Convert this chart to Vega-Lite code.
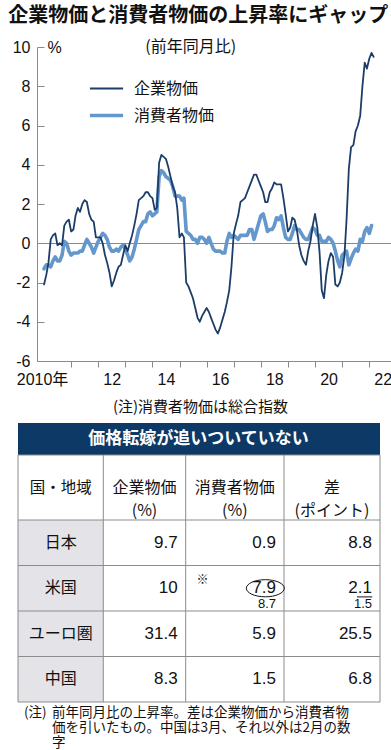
{
  "$schema": "https://vega.github.io/schema/vega-lite/v6.json",
  "background": "white",
  "padding": {"left": 8, "right": 0, "top": 6, "bottom": 0},
  "spacing": 9,
  "title": {"text": "企業物価と消費者物価の上昇率にギャップ", "anchor": "start", "font": "Noto Sans CJK JP", "fontSize": 20, "fontWeight": "bold", "color": "#111111", "offset": 13, "dx": -4},
  "config": {"view": {"stroke": null}},
  "datasets": {
    "series": [
      {"月":"2010-01-01","企業物価":-2.1,"消費者物価":-1.3},
      {"月":"2010-02-01","企業物価":-1.6,"消費者物価":-1.1},
      {"月":"2010-03-01","企業物価":-1.0,"消費者物価":-1.1},
      {"月":"2010-04-01","企業物価":0.2,"消費者物価":-1.2},
      {"月":"2010-05-01","企業物価":0.4,"消費者物価":-0.9},
      {"月":"2010-06-01","企業物価":0.5,"消費者物価":-0.7},
      {"月":"2010-07-01","企業物価":-0.1,"消費者物価":-0.9},
      {"月":"2010-08-01","企業物価":0.0,"消費者物価":-0.9},
      {"月":"2010-09-01","企業物価":-0.1,"消費者物価":-0.6},
      {"月":"2010-10-01","企業物価":0.9,"消費者物価":0.1},
      {"月":"2010-11-01","企業物価":1.1,"消費者物価":0.0},
      {"月":"2010-12-01","企業物価":1.2,"消費者物価":-0.4},
      {"月":"2011-01-01","企業物価":0.6,"消費者物価":-0.6},
      {"月":"2011-02-01","企業物価":0.7,"消費者物価":-0.5},
      {"月":"2011-03-01","企業物価":1.4,"消費者物価":-0.5},
      {"月":"2011-04-01","企業物価":1.8,"消費者物価":-0.5},
      {"月":"2011-05-01","企業物価":1.6,"消費者物価":-0.4},
      {"月":"2011-06-01","企業物価":2.0,"消費者物価":-0.4},
      {"月":"2011-07-01","企業物価":2.2,"消費者物価":-0.1},
      {"月":"2011-08-01","企業物価":2.1,"消費者物価":0.2},
      {"月":"2011-09-01","企業物価":1.5,"消費者物価":0.0},
      {"月":"2011-10-01","企業物価":1.2,"消費者物価":-0.2},
      {"月":"2011-11-01","企業物価":1.1,"消費者物価":-0.5},
      {"月":"2011-12-01","企業物価":0.3,"消費者物価":-0.2},
      {"月":"2012-01-01","企業物価":0.3,"消費者物価":0.1},
      {"月":"2012-02-01","企業物価":0.3,"消費者物価":0.3},
      {"月":"2012-03-01","企業物価":0.0,"消費者物価":0.5},
      {"月":"2012-04-01","企業物価":-0.6,"消費者物価":0.4},
      {"月":"2012-05-01","企業物価":-1.0,"消費者物価":0.2},
      {"月":"2012-06-01","企業物価":-1.5,"消費者物価":-0.2},
      {"月":"2012-07-01","企業物価":-2.2,"消費者物価":-0.4},
      {"月":"2012-08-01","企業物価":-1.9,"消費者物価":-0.4},
      {"月":"2012-09-01","企業物価":-1.5,"消費者物価":-0.3},
      {"月":"2012-10-01","企業物価":-1.2,"消費者物価":-0.4},
      {"月":"2012-11-01","企業物価":-1.1,"消費者物価":-0.2},
      {"月":"2012-12-01","企業物価":-0.6,"消費者物価":-0.1},
      {"月":"2013-01-01","企業物価":-0.1,"消費者物価":-0.3},
      {"月":"2013-02-01","企業物価":-0.4,"消費者物価":-0.6},
      {"月":"2013-03-01","企業物価":0.0,"消費者物価":-0.9},
      {"月":"2013-04-01","企業物価":0.4,"消費者物価":-0.7},
      {"月":"2013-05-01","企業物価":0.9,"消費者物価":-0.3},
      {"月":"2013-06-01","企業物価":1.5,"消費者物価":0.2},
      {"月":"2013-07-01","企業物価":2.2,"消費者物価":0.7},
      {"月":"2013-08-01","企業物価":2.3,"消費者物価":0.9},
      {"月":"2013-09-01","企業物価":2.4,"消費者物価":1.1},
      {"月":"2013-10-01","企業物価":2.6,"消費者物価":1.1},
      {"月":"2013-11-01","企業物価":2.6,"消費者物価":1.5},
      {"月":"2013-12-01","企業物価":2.4,"消費者物価":1.6},
      {"月":"2014-01-01","企業物価":2.3,"消費者物価":1.4},
      {"月":"2014-02-01","企業物価":1.7,"消費者物価":1.5},
      {"月":"2014-03-01","企業物価":1.8,"消費者物価":1.6},
      {"月":"2014-04-01","企業物価":4.1,"消費者物価":3.4},
      {"月":"2014-05-01","企業物価":4.5,"消費者物価":3.7},
      {"月":"2014-06-01","企業物価":4.4,"消費者物価":3.6},
      {"月":"2014-07-01","企業物価":4.3,"消費者物価":3.4},
      {"月":"2014-08-01","企業物価":3.9,"消費者物価":3.3},
      {"月":"2014-09-01","企業物価":3.4,"消費者物価":3.2},
      {"月":"2014-10-01","企業物価":2.9,"消費者物価":2.9},
      {"月":"2014-11-01","企業物価":2.6,"消費者物価":2.4},
      {"月":"2014-12-01","企業物価":1.8,"消費者物価":2.4},
      {"月":"2015-01-01","企業物価":0.3,"消費者物価":2.4},
      {"月":"2015-02-01","企業物価":0.5,"消費者物価":2.2},
      {"月":"2015-03-01","企業物価":0.3,"消費者物価":2.3},
      {"月":"2015-04-01","企業物価":-2.0,"消費者物価":0.6},
      {"月":"2015-05-01","企業物価":-2.2,"消費者物価":0.5},
      {"月":"2015-06-01","企業物価":-2.5,"消費者物価":0.4},
      {"月":"2015-07-01","企業物価":-2.8,"消費者物価":0.2},
      {"月":"2015-08-01","企業物価":-3.3,"消費者物価":0.2},
      {"月":"2015-09-01","企業物価":-3.8,"消費者物価":0.0},
      {"月":"2015-10-01","企業物価":-4.0,"消費者物価":0.3},
      {"月":"2015-11-01","企業物価":-3.7,"消費者物価":0.3},
      {"月":"2015-12-01","企業物価":-3.5,"消費者物価":0.2},
      {"月":"2016-01-01","企業物価":-3.3,"消費者物価":0.0},
      {"月":"2016-02-01","企業物価":-3.5,"消費者物価":0.3},
      {"月":"2016-03-01","企業物価":-3.8,"消費者物価":0.0},
      {"月":"2016-04-01","企業物価":-4.1,"消費者物価":-0.3},
      {"月":"2016-05-01","企業物価":-4.4,"消費者物価":-0.4},
      {"月":"2016-06-01","企業物価":-4.6,"消費者物価":-0.4},
      {"月":"2016-07-01","企業物価":-4.3,"消費者物価":-0.4},
      {"月":"2016-08-01","企業物価":-3.9,"消費者物価":-0.5},
      {"月":"2016-09-01","企業物価":-3.5,"消費者物価":-0.5},
      {"月":"2016-10-01","企業物価":-3.0,"消費者物価":0.1},
      {"月":"2016-11-01","企業物価":-2.4,"消費者物価":0.5},
      {"月":"2016-12-01","企業物価":-1.2,"消費者物価":0.3},
      {"月":"2017-01-01","企業物価":0.5,"消費者物価":0.4},
      {"月":"2017-02-01","企業物価":1.0,"消費者物価":0.3},
      {"月":"2017-03-01","企業物価":1.4,"消費者物価":0.2},
      {"月":"2017-04-01","企業物価":2.1,"消費者物価":0.4},
      {"月":"2017-05-01","企業物価":2.2,"消費者物価":0.4},
      {"月":"2017-06-01","企業物価":2.3,"消費者物価":0.4},
      {"月":"2017-07-01","企業物価":2.6,"消費者物価":0.4},
      {"月":"2017-08-01","企業物価":2.9,"消費者物価":0.7},
      {"月":"2017-09-01","企業物価":3.2,"消費者物価":0.7},
      {"月":"2017-10-01","企業物価":3.5,"消費者物価":0.2},
      {"月":"2017-11-01","企業物価":3.5,"消費者物価":0.6},
      {"月":"2017-12-01","企業物価":3.2,"消費者物価":1.0},
      {"月":"2018-01-01","企業物価":2.9,"消費者物価":1.4},
      {"月":"2018-02-01","企業物価":2.6,"消費者物価":1.5},
      {"月":"2018-03-01","企業物価":2.1,"消費者物価":1.1},
      {"月":"2018-04-01","企業物価":2.1,"消費者物価":0.6},
      {"月":"2018-05-01","企業物価":2.6,"消費者物価":0.7},
      {"月":"2018-06-01","企業物価":2.8,"消費者物価":0.7},
      {"月":"2018-07-01","企業物価":3.1,"消費者物価":0.9},
      {"月":"2018-08-01","企業物価":3.0,"消費者物価":1.3},
      {"月":"2018-09-01","企業物価":3.0,"消費者物価":1.2},
      {"月":"2018-10-01","企業物価":3.0,"消費者物価":1.4},
      {"月":"2018-11-01","企業物価":2.3,"消費者物価":0.8},
      {"月":"2018-12-01","企業物価":1.5,"消費者物価":0.3},
      {"月":"2019-01-01","企業物価":0.6,"消費者物価":0.2},
      {"月":"2019-02-01","企業物価":0.8,"消費者物価":0.2},
      {"月":"2019-03-01","企業物価":1.3,"消費者物価":0.5},
      {"月":"2019-04-01","企業物価":1.2,"消費者物価":0.9},
      {"月":"2019-05-01","企業物価":0.7,"消費者物価":0.7},
      {"月":"2019-06-01","企業物価":-0.1,"消費者物価":0.7},
      {"月":"2019-07-01","企業物価":-0.6,"消費者物価":0.5},
      {"月":"2019-08-01","企業物価":-0.9,"消費者物価":0.3},
      {"月":"2019-09-01","企業物価":-1.1,"消費者物価":0.2},
      {"月":"2019-10-01","企業物価":-0.4,"消費者物価":0.2},
      {"月":"2019-11-01","企業物価":0.1,"消費者物価":0.5},
      {"月":"2019-12-01","企業物価":0.9,"消費者物価":0.8},
      {"月":"2020-01-01","企業物価":1.5,"消費者物価":0.7},
      {"月":"2020-02-01","企業物価":0.8,"消費者物価":0.4},
      {"月":"2020-03-01","企業物価":-0.4,"消費者物価":0.4},
      {"月":"2020-04-01","企業物価":-2.4,"消費者物価":0.1},
      {"月":"2020-05-01","企業物価":-2.8,"消費者物価":0.1},
      {"月":"2020-06-01","企業物価":-1.6,"消費者物価":0.1},
      {"月":"2020-07-01","企業物価":-0.9,"消費者物価":0.3},
      {"月":"2020-08-01","企業物価":-0.5,"消費者物価":0.2},
      {"月":"2020-09-01","企業物価":-0.7,"消費者物価":0.0},
      {"月":"2020-10-01","企業物価":-2.1,"消費者物価":-0.4},
      {"月":"2020-11-01","企業物価":-2.2,"消費者物価":-0.9},
      {"月":"2020-12-01","企業物価":-2.0,"消費者物価":-1.2},
      {"月":"2021-01-01","企業物価":-1.5,"消費者物価":-0.6},
      {"月":"2021-02-01","企業物価":-0.6,"消費者物価":-0.5},
      {"月":"2021-03-01","企業物価":1.2,"消費者物価":-0.4},
      {"月":"2021-04-01","企業物価":3.8,"消費者物価":-1.1},
      {"月":"2021-05-01","企業物価":4.9,"消費者物価":-0.8},
      {"月":"2021-06-01","企業物価":5.0,"消費者物価":-0.5},
      {"月":"2021-07-01","企業物価":5.7,"消費者物価":-0.3},
      {"月":"2021-08-01","企業物価":6.0,"消費者物価":-0.4},
      {"月":"2021-09-01","企業物価":6.5,"消費者物価":0.2},
      {"月":"2021-10-01","企業物価":8.0,"消費者物価":0.1},
      {"月":"2021-11-01","企業物価":9.2,"消費者物価":0.6},
      {"月":"2021-12-01","企業物価":8.9,"消費者物価":0.8},
      {"月":"2022-01-01","企業物価":9.4,"消費者物価":0.5},
      {"月":"2022-02-01","企業物価":9.7,"消費者物価":0.9},
      {"月":"2022-03-01","企業物価":9.5,"消費者物価":null}
    ],
    "table": [
      {"地域":"日本","企業物価":9.7,"消費者物価":0.9,"差":8.8},
      {"地域":"米国","企業物価":10,"消費者物価":7.9,"差":2.1,"消費者物価_前":8.7,"差_前":1.5},
      {"地域":"ユーロ圏","企業物価":31.4,"消費者物価":5.9,"差":25.5},
      {"地域":"中国","企業物価":8.3,"消費者物価":1.5,"差":6.8}
    ]
  },
  "vconcat": [
    {
      "width": 358,
      "height": 314,
      "layer": [
        {
          "data": {"name": "series"},
          "transform": [{"fold": ["消費者物価", "企業物価"], "as": ["系列", "値"]}],
          "mark": {"type": "line", "strokeJoin": "round", "strokeCap": "round"},
          "encoding": {
            "x": {
              "field": "月", "type": "temporal",
              "scale": {"domain": ["2009-09-28", "2022-12-14"]},
              "axis": {
                "values": [
                  {"year": 2010, "month": 1, "date": 1}, {"year": 2011, "month": 1, "date": 1}, {"year": 2012, "month": 1, "date": 1},
                  {"year": 2013, "month": 1, "date": 1}, {"year": 2014, "month": 1, "date": 1}, {"year": 2015, "month": 1, "date": 1},
                  {"year": 2016, "month": 1, "date": 1}, {"year": 2017, "month": 1, "date": 1}, {"year": 2018, "month": 1, "date": 1},
                  {"year": 2019, "month": 1, "date": 1}, {"year": 2020, "month": 1, "date": 1}, {"year": 2021, "month": 1, "date": 1},
                  {"year": 2022, "month": 1, "date": 1}
                ],
                "labelExpr": "year(datum.value) % 2 == 0 ? (year(datum.value) == 2010 ? '2010年' : substring(toString(year(datum.value)), 2, 4)) : ''",
                "labelOffset": {"condition": {"test": "year(datum.value) == 2010", "value": -2}, "value": 13.5},
                "tickOpacity": {"condition": {"test": "year(datum.value) == 2010", "value": 0}, "value": 1},
                "tickSize": 6, "tickColor": "#8a8a8a", "domainColor": "#8a8a8a",
                "labelFont": "Liberation Sans, Noto Sans CJK JP", "labelFontSize": 16, "labelColor": "#111111",
                "labelPadding": 4, "labelFlush": false, "labelOverlap": false, "grid": false,
                "title": "(注)消費者物価は総合指数", "titleFont": "Noto Sans CJK JP", "titleFontSize": 15,
                "titleFontWeight": "normal", "titleColor": "#111111", "titlePadding": 12, "titleX": 163, "titleAlign": "center"
              }
            },
            "y": {
              "field": "値", "type": "quantitative",
              "scale": {"domain": [-6, 10], "nice": false, "zero": false},
              "axis": {
                "values": [-6, -4, -2, 0, 2, 4, 6, 8, 10],
                "labelExpr": "toString(datum.value)",
                "labelOverlap": false, "labelSeparation": 0, "labelBound": false,
                "labelFont": "Liberation Sans", "labelFontSize": 16, "labelColor": "#111111",
                "tickSize": -7, "tickColor": "#8a8a8a", "domainColor": "#8a8a8a", "labelPadding": 14,
                "grid": true, "gridColor": "#8a8a8a", "gridWidth": 1,
                "gridOpacity": {"condition": {"test": "datum.value == 0", "value": 1}, "value": 0},
                "title": "%", "titleAngle": 0, "titleX": 10, "titleY": 0, "titleAlign": "left", "titleBaseline": "middle",
                "titleFont": "Liberation Sans", "titleFontSize": 16, "titleFontWeight": "normal", "titleColor": "#111111"
              }
            },
            "color": {
              "field": "系列", "type": "nominal",
              "scale": {"domain": ["企業物価", "消費者物価"], "range": ["#1d3d69", "#6497cb"]},
              "legend": {"orient": "none", "legendX": 51, "legendY": 24, "title": null, "symbolType": "stroke", "symbolSize": 1100,
                "labelFont": "Noto Sans CJK JP", "labelFontSize": 16, "labelColor": "#111111", "labelOffset": 9, "rowPadding": -10, "labelLimit": 200}
            },
            "strokeWidth": {
              "field": "系列", "type": "nominal",
              "scale": {"domain": ["企業物価", "消費者物価"], "range": [1.8, 3.6]},
              "legend": {"orient": "none", "legendX": 51, "legendY": 24, "title": null, "symbolType": "stroke", "symbolSize": 1100,
                "labelFont": "Noto Sans CJK JP", "labelFontSize": 16, "labelColor": "#111111", "labelOffset": 9, "rowPadding": -10, "labelLimit": 200}
            }
          }
        },
        {
          "data": {"values": [{}]},
          "mark": {"type": "text", "font": "Noto Sans CJK JP", "fontSize": 16, "color": "#111111", "align": "center", "baseline": "middle"},
          "encoding": {
            "x": {
              "datum": {"year": 2015, "month": 6, "date": 1}, "type": "temporal",
              "scale": {"domain": ["2009-09-28", "2022-12-14"]},
              "axis": {
                "values": [
                  {"year": 2010, "month": 1, "date": 1}, {"year": 2011, "month": 1, "date": 1}, {"year": 2012, "month": 1, "date": 1},
                  {"year": 2013, "month": 1, "date": 1}, {"year": 2014, "month": 1, "date": 1}, {"year": 2015, "month": 1, "date": 1},
                  {"year": 2016, "month": 1, "date": 1}, {"year": 2017, "month": 1, "date": 1}, {"year": 2018, "month": 1, "date": 1},
                  {"year": 2019, "month": 1, "date": 1}, {"year": 2020, "month": 1, "date": 1}, {"year": 2021, "month": 1, "date": 1},
                  {"year": 2022, "month": 1, "date": 1}
                ],
                "labelExpr": "year(datum.value) % 2 == 0 ? (year(datum.value) == 2010 ? '2010年' : substring(toString(year(datum.value)), 2, 4)) : ''",
                "labelOffset": {"condition": {"test": "year(datum.value) == 2010", "value": -2}, "value": 13.5},
                "tickOpacity": {"condition": {"test": "year(datum.value) == 2010", "value": 0}, "value": 1},
                "tickSize": 6, "tickColor": "#8a8a8a", "domainColor": "#8a8a8a",
                "labelFont": "Liberation Sans, Noto Sans CJK JP", "labelFontSize": 16, "labelColor": "#111111",
                "labelPadding": 4, "labelFlush": false, "labelOverlap": false, "grid": false,
                "title": "(注)消費者物価は総合指数", "titleFont": "Noto Sans CJK JP", "titleFontSize": 15,
                "titleFontWeight": "normal", "titleColor": "#111111", "titlePadding": 12, "titleX": 163, "titleAlign": "center"
              }
            },
            "y": {
              "datum": 10, "type": "quantitative",
              "scale": {"domain": [-6, 10], "nice": false, "zero": false},
              "axis": {
                "values": [-6, -4, -2, 0, 2, 4, 6, 8, 10],
                "labelExpr": "toString(datum.value)",
                "labelOverlap": false, "labelSeparation": 0, "labelBound": false,
                "labelFont": "Liberation Sans", "labelFontSize": 16, "labelColor": "#111111",
                "tickSize": -7, "tickColor": "#8a8a8a", "domainColor": "#8a8a8a", "labelPadding": 14,
                "grid": true, "gridColor": "#8a8a8a", "gridWidth": 1,
                "gridOpacity": {"condition": {"test": "datum.value == 0", "value": 1}, "value": 0},
                "title": "%", "titleAngle": 0, "titleX": 10, "titleY": 0, "titleAlign": "left", "titleBaseline": "middle",
                "titleFont": "Liberation Sans", "titleFontSize": 16, "titleFontWeight": "normal", "titleColor": "#111111"
              }
            },
            "text": {"value": "(前年同月比)"}
          }
        }
      ]
    },
    {
      "width": 362,
      "height": 279,
      "resolve": {"scale": {"y": "independent"}},
      "layer": [
        {
          "data": {"values": [{}]},
          "mark": {"type": "rect", "fill": "#e3e3e8"},
          "encoding": {
            "x": {"datum": 0, "type": "quantitative", "scale": {"domain": [0, 1, 2, 3, 4], "range": [-19, 66.3, 148.7, 247, 343], "nice": false, "zero": false}, "axis": null},
            "x2": {"datum": 1},
            "y": {"datum": 2, "type": "quantitative", "scale": {"domain": [0, 1, 2, 3, 4, 5, 6], "range": [0, 32, 97, 142.5, 188, 233.5, 279], "nice": false, "zero": false}, "axis": null},
            "y2": {"datum": 6}
          }
        },
        {
          "data": {"values": [{}]},
          "mark": {"type": "rect", "fill": "#0d3966"},
          "encoding": {
            "x": {"datum": 0, "type": "quantitative", "scale": {"domain": [0, 1, 2, 3, 4], "range": [-19, 66.3, 148.7, 247, 343], "nice": false, "zero": false}, "axis": null},
            "x2": {"datum": 4},
            "y": {"datum": 0, "type": "quantitative", "scale": {"domain": [0, 1, 2, 3, 4, 5, 6], "range": [0, 32, 97, 142.5, 188, 233.5, 279], "nice": false, "zero": false}, "axis": null},
            "y2": {"datum": 1}
          }
        },
        {
          "data": {"values": [{}]},
          "mark": {"type": "rule", "color": "#8c8c8c", "strokeWidth": 1},
          "encoding": {
            "x": {"datum": 1, "type": "quantitative", "scale": {"domain": [0, 1, 2, 3, 4], "range": [-19, 66.3, 148.7, 247, 343], "nice": false, "zero": false}, "axis": null},
            "y": {"datum": 1, "type": "quantitative", "scale": {"domain": [0, 1, 2, 3, 4, 5, 6], "range": [0, 32, 97, 142.5, 188, 233.5, 279], "nice": false, "zero": false}, "axis": null},
            "y2": {"datum": 6}
          }
        },
        {
          "data": {"values": [{}]},
          "mark": {"type": "rule", "color": "#8c8c8c", "strokeWidth": 1},
          "encoding": {
            "x": {"datum": 2, "type": "quantitative", "scale": {"domain": [0, 1, 2, 3, 4], "range": [-19, 66.3, 148.7, 247, 343], "nice": false, "zero": false}, "axis": null},
            "y": {"datum": 1, "type": "quantitative", "scale": {"domain": [0, 1, 2, 3, 4, 5, 6], "range": [0, 32, 97, 142.5, 188, 233.5, 279], "nice": false, "zero": false}, "axis": null},
            "y2": {"datum": 6}
          }
        },
        {
          "data": {"values": [{}]},
          "mark": {"type": "rule", "color": "#8c8c8c", "strokeWidth": 1},
          "encoding": {
            "x": {"datum": 3, "type": "quantitative", "scale": {"domain": [0, 1, 2, 3, 4], "range": [-19, 66.3, 148.7, 247, 343], "nice": false, "zero": false}, "axis": null},
            "y": {"datum": 1, "type": "quantitative", "scale": {"domain": [0, 1, 2, 3, 4, 5, 6], "range": [0, 32, 97, 142.5, 188, 233.5, 279], "nice": false, "zero": false}, "axis": null},
            "y2": {"datum": 6}
          }
        },
        {
          "data": {"name": "table"},
          "mark": {"type": "rule", "color": "#8c8c8c", "strokeWidth": 1},
          "encoding": {
            "x": {"datum": 0, "type": "quantitative", "scale": {"domain": [0, 1, 2, 3, 4], "range": [-19, 66.3, 148.7, 247, 343], "nice": false, "zero": false}, "axis": null},
            "x2": {"datum": 4},
            "y": {"field": "地域", "type": "nominal", "bandPosition": 0, "scale": {"domain": ["日本", "米国", "ユーロ圏", "中国"], "range": [97, 279], "paddingInner": 0, "paddingOuter": 0}, "axis": null}
          }
        },
        {
          "data": {"values": [{}]},
          "mark": {"type": "rect", "fillOpacity": 0, "stroke": "#8c8c8c", "strokeWidth": 1},
          "encoding": {
            "x": {"datum": 0, "type": "quantitative", "scale": {"domain": [0, 1, 2, 3, 4], "range": [-19, 66.3, 148.7, 247, 343], "nice": false, "zero": false}, "axis": null},
            "x2": {"datum": 4},
            "y": {"datum": 1, "type": "quantitative", "scale": {"domain": [0, 1, 2, 3, 4, 5, 6], "range": [0, 32, 97, 142.5, 188, 233.5, 279], "nice": false, "zero": false}, "axis": null},
            "y2": {"datum": 6}
          }
        },
        {
          "data": {"values": [{}]},
          "mark": {"type": "rule", "color": "#111111", "strokeWidth": 1},
          "encoding": {
            "x": {"datum": 3.76, "type": "quantitative", "scale": {"domain": [0, 1, 2, 3, 4], "range": [-19, 66.3, 148.7, 247, 343], "nice": false, "zero": false}, "axis": null},
            "x2": {"datum": 3.92},
            "y": {"datum": 3.69, "type": "quantitative", "scale": {"domain": [0, 1, 2, 3, 4, 5, 6], "range": [0, 32, 97, 142.5, 188, 233.5, 279], "nice": false, "zero": false}, "axis": null}
          }
        },
        {
          "data": {"values": [{}]},
          "mark": {"type": "text", "font": "Noto Sans CJK JP", "fontSize": 17, "fontWeight": "bold", "color": "white", "align": "center", "baseline": "middle"},
          "encoding": {
            "x": {"datum": 2.13, "type": "quantitative", "scale": {"domain": [0, 1, 2, 3, 4], "range": [-19, 66.3, 148.7, 247, 343], "nice": false, "zero": false}, "axis": null},
            "y": {"datum": 0.5, "type": "quantitative", "scale": {"domain": [0, 1, 2, 3, 4, 5, 6], "range": [0, 32, 97, 142.5, 188, 233.5, 279], "nice": false, "zero": false}, "axis": null},
            "text": {"value": "価格転嫁が追いついていない"}
          }
        },
        {
          "data": {"values": [{}]},
          "mark": {"type": "text", "font": "Noto Sans CJK JP", "fontSize": 15.5, "color": "#111111", "align": "center", "baseline": "middle"},
          "encoding": {
            "x": {"datum": 0.5, "type": "quantitative", "scale": {"domain": [0, 1, 2, 3, 4], "range": [-19, 66.3, 148.7, 247, 343], "nice": false, "zero": false}, "axis": null},
            "y": {"datum": 1.5, "type": "quantitative", "scale": {"domain": [0, 1, 2, 3, 4, 5, 6], "range": [0, 32, 97, 142.5, 188, 233.5, 279], "nice": false, "zero": false}, "axis": null},
            "text": {"value": "国・地域"}
          }
        },
        {
          "data": {"values": [{}]},
          "mark": {"type": "text", "font": "Noto Sans CJK JP", "fontSize": 16, "color": "#111111", "align": "center", "baseline": "middle", "lineHeight": 23},
          "encoding": {
            "x": {"datum": 1.5, "type": "quantitative", "scale": {"domain": [0, 1, 2, 3, 4], "range": [-19, 66.3, 148.7, 247, 343], "nice": false, "zero": false}, "axis": null},
            "y": {"datum": 1.5, "type": "quantitative", "scale": {"domain": [0, 1, 2, 3, 4, 5, 6], "range": [0, 32, 97, 142.5, 188, 233.5, 279], "nice": false, "zero": false}, "axis": null},
            "text": {"value": ["企業物価", "(%)"]}
          }
        },
        {
          "data": {"values": [{}]},
          "mark": {"type": "text", "font": "Noto Sans CJK JP", "fontSize": 16, "color": "#111111", "align": "center", "baseline": "middle", "lineHeight": 23},
          "encoding": {
            "x": {"datum": 2.5, "type": "quantitative", "scale": {"domain": [0, 1, 2, 3, 4], "range": [-19, 66.3, 148.7, 247, 343], "nice": false, "zero": false}, "axis": null},
            "y": {"datum": 1.5, "type": "quantitative", "scale": {"domain": [0, 1, 2, 3, 4, 5, 6], "range": [0, 32, 97, 142.5, 188, 233.5, 279], "nice": false, "zero": false}, "axis": null},
            "text": {"value": ["消費者物価", "(%)"]}
          }
        },
        {
          "data": {"values": [{}]},
          "mark": {"type": "text", "font": "Noto Sans CJK JP", "fontSize": 16, "color": "#111111", "align": "center", "baseline": "middle", "lineHeight": 23},
          "encoding": {
            "x": {"datum": 3.5, "type": "quantitative", "scale": {"domain": [0, 1, 2, 3, 4], "range": [-19, 66.3, 148.7, 247, 343], "nice": false, "zero": false}, "axis": null},
            "y": {"datum": 1.5, "type": "quantitative", "scale": {"domain": [0, 1, 2, 3, 4, 5, 6], "range": [0, 32, 97, 142.5, 188, 233.5, 279], "nice": false, "zero": false}, "axis": null},
            "text": {"value": ["差", "(ポイント)"]}
          }
        },
        {
          "data": {"name": "table"},
          "mark": {"type": "text", "font": "Noto Sans CJK JP", "fontSize": 16, "color": "#111111", "align": "center", "baseline": "middle"},
          "encoding": {
            "x": {"datum": 0.5, "type": "quantitative", "scale": {"domain": [0, 1, 2, 3, 4], "range": [-19, 66.3, 148.7, 247, 343], "nice": false, "zero": false}, "axis": null},
            "y": {"field": "地域", "type": "nominal", "scale": {"domain": ["日本", "米国", "ユーロ圏", "中国"], "range": [97, 279], "paddingInner": 0, "paddingOuter": 0}, "axis": null},
            "text": {"field": "地域", "type": "nominal"}
          }
        },
        {
          "data": {"name": "table"},
          "mark": {"type": "text", "font": "Liberation Sans", "fontSize": 17, "color": "#111111", "align": "right", "baseline": "middle", "dx": -8},
          "encoding": {
            "x": {"datum": 2, "type": "quantitative", "scale": {"domain": [0, 1, 2, 3, 4], "range": [-19, 66.3, 148.7, 247, 343], "nice": false, "zero": false}, "axis": null},
            "y": {"field": "地域", "type": "nominal", "scale": {"domain": ["日本", "米国", "ユーロ圏", "中国"], "range": [97, 279], "paddingInner": 0, "paddingOuter": 0}, "axis": null},
            "text": {"field": "企業物価", "type": "quantitative"}
          }
        },
        {
          "data": {"name": "table"},
          "mark": {"type": "text", "font": "Liberation Sans", "fontSize": 17, "color": "#111111", "align": "right", "baseline": "middle", "dx": -8},
          "encoding": {
            "x": {"datum": 3, "type": "quantitative", "scale": {"domain": [0, 1, 2, 3, 4], "range": [-19, 66.3, 148.7, 247, 343], "nice": false, "zero": false}, "axis": null},
            "y": {"field": "地域", "type": "nominal", "scale": {"domain": ["日本", "米国", "ユーロ圏", "中国"], "range": [97, 279], "paddingInner": 0, "paddingOuter": 0}, "axis": null},
            "text": {"field": "消費者物価", "type": "quantitative"}
          }
        },
        {
          "data": {"name": "table"},
          "mark": {"type": "text", "font": "Liberation Sans", "fontSize": 17, "color": "#111111", "align": "right", "baseline": "middle", "dx": -8},
          "encoding": {
            "x": {"datum": 4, "type": "quantitative", "scale": {"domain": [0, 1, 2, 3, 4], "range": [-19, 66.3, 148.7, 247, 343], "nice": false, "zero": false}, "axis": null},
            "y": {"field": "地域", "type": "nominal", "scale": {"domain": ["日本", "米国", "ユーロ圏", "中国"], "range": [97, 279], "paddingInner": 0, "paddingOuter": 0}, "axis": null},
            "text": {"field": "差", "type": "quantitative"}
          }
        },
        {
          "data": {"name": "table"},
          "transform": [{"filter": "isValid(datum['消費者物価_前'])"}],
          "mark": {"type": "text", "font": "Liberation Sans", "fontSize": 13, "color": "#111111", "align": "right", "baseline": "middle", "dx": -8, "dy": 16},
          "encoding": {
            "x": {"datum": 3, "type": "quantitative", "scale": {"domain": [0, 1, 2, 3, 4], "range": [-19, 66.3, 148.7, 247, 343], "nice": false, "zero": false}, "axis": null},
            "y": {"field": "地域", "type": "nominal", "scale": {"domain": ["日本", "米国", "ユーロ圏", "中国"], "range": [97, 279], "paddingInner": 0, "paddingOuter": 0}, "axis": null},
            "text": {"field": "消費者物価_前", "type": "quantitative"}
          }
        },
        {
          "data": {"name": "table"},
          "transform": [{"filter": "isValid(datum['差_前'])"}],
          "mark": {"type": "text", "font": "Liberation Sans", "fontSize": 13, "color": "#111111", "align": "right", "baseline": "middle", "dx": -8, "dy": 16},
          "encoding": {
            "x": {"datum": 4, "type": "quantitative", "scale": {"domain": [0, 1, 2, 3, 4], "range": [-19, 66.3, 148.7, 247, 343], "nice": false, "zero": false}, "axis": null},
            "y": {"field": "地域", "type": "nominal", "scale": {"domain": ["日本", "米国", "ユーロ圏", "中国"], "range": [97, 279], "paddingInner": 0, "paddingOuter": 0}, "axis": null},
            "text": {"field": "差_前", "type": "quantitative"}
          }
        },
        {
          "data": {"name": "table"},
          "transform": [{"filter": "isValid(datum['消費者物価_前'])"}],
          "mark": {"type": "text", "font": "Noto Sans CJK JP", "fontSize": 12, "color": "#111111", "align": "center", "baseline": "middle", "dy": -8},
          "encoding": {
            "x": {"datum": 2.17, "type": "quantitative", "scale": {"domain": [0, 1, 2, 3, 4], "range": [-19, 66.3, 148.7, 247, 343], "nice": false, "zero": false}, "axis": null},
            "y": {"field": "地域", "type": "nominal", "scale": {"domain": ["日本", "米国", "ユーロ圏", "中国"], "range": [97, 279], "paddingInner": 0, "paddingOuter": 0}, "axis": null},
            "text": {"value": "※"}
          }
        },
        {
          "data": {"name": "table"},
          "transform": [{"filter": "isValid(datum['消費者物価_前'])"}],
          "mark": {"type": "point", "shape": "M -1 0 A 1 0.45 0 1 0 1 0 A 1 0.45 0 1 0 -1 0 Z", "size": 1444, "filled": false, "stroke": "#111111", "strokeWidth": 1, "opacity": 1},
          "encoding": {
            "x": {"datum": 2.81, "type": "quantitative", "scale": {"domain": [0, 1, 2, 3, 4], "range": [-19, 66.3, 148.7, 247, 343], "nice": false, "zero": false}, "axis": null},
            "y": {"field": "地域", "type": "nominal", "scale": {"domain": ["日本", "米国", "ユーロ圏", "中国"], "range": [97, 279], "paddingInner": 0, "paddingOuter": 0}, "axis": null}
          }
        },
        {
          "data": {"values": [{}]},
          "mark": {"type": "text", "font": "Noto Sans CJK JP", "fontSize": 13.5, "color": "#111111", "align": "left", "baseline": "top", "dx": 6, "dy": 4},
          "encoding": {
            "x": {"datum": 0, "type": "quantitative", "scale": {"domain": [0, 1, 2, 3, 4], "range": [-19, 66.3, 148.7, 247, 343], "nice": false, "zero": false}, "axis": null},
            "y": {"datum": 6, "type": "quantitative", "scale": {"domain": [0, 1, 2, 3, 4, 5, 6], "range": [0, 32, 97, 142.5, 188, 233.5, 279], "nice": false, "zero": false}, "axis": null},
            "text": {"value": "(注)"}
          }
        },
        {
          "data": {"values": [{}]},
          "mark": {"type": "text", "font": "Noto Sans CJK JP", "fontSize": 13.5, "color": "#111111", "align": "left", "baseline": "top", "dx": 34, "dy": 4, "lineHeight": 15},
          "encoding": {
            "x": {"datum": 0, "type": "quantitative", "scale": {"domain": [0, 1, 2, 3, 4], "range": [-19, 66.3, 148.7, 247, 343], "nice": false, "zero": false}, "axis": null},
            "y": {"datum": 6, "type": "quantitative", "scale": {"domain": [0, 1, 2, 3, 4, 5, 6], "range": [0, 32, 97, 142.5, 188, 233.5, 279], "nice": false, "zero": false}, "axis": null},
            "text": {"value": ["前年同月比の上昇率。差は企業物価から消費者物", "価を引いたもの。中国は3月、それ以外は2月の数", "字"]}
          }
        }
      ]
    }
  ]
}
